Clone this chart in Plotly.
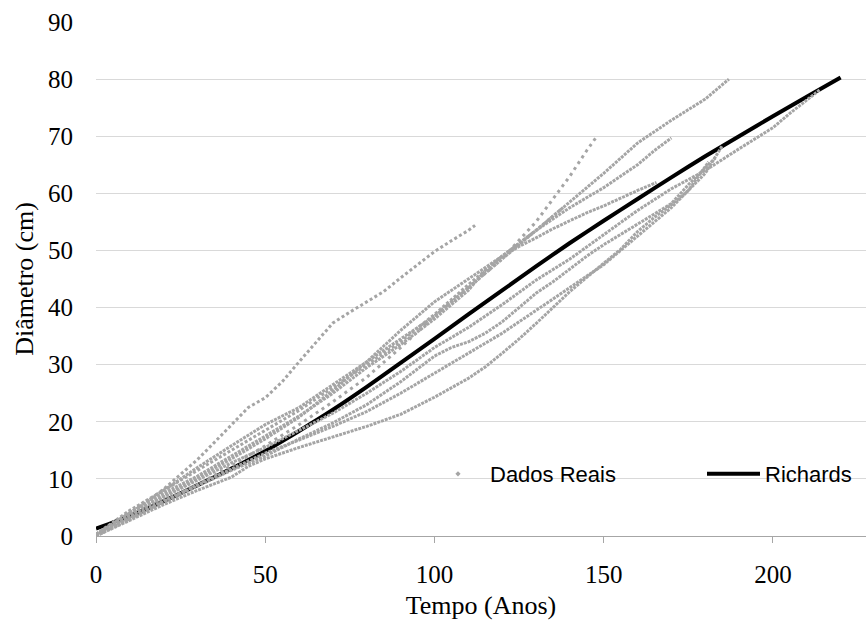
import plotly.graph_objects as go

# ---------------- data ----------------
tempo_richards = [0, 10, 20, 30, 40, 50, 60, 70, 80, 90, 100, 110, 120, 130, 140, 150, 160, 170, 180, 190, 200, 210, 220]
diam_richards = [1.3, 3.5, 6.1, 8.9, 11.8, 14.9, 18.4, 22.1, 26.1, 30.3, 34.5, 38.8, 43.0, 47.2, 51.3, 55.2, 59.0, 62.8, 66.5, 70.0, 73.5, 76.9, 80.3]

tempo_a = [0, 5, 10, 15, 20, 25, 30, 35, 40, 45, 50, 55, 60, 65, 70, 75, 80, 85, 90, 95, 100, 105, 110, 112]
diam_a = [0.3, 2.2, 4.2, 6.0, 8.2, 10.8, 13.4, 16.4, 19.5, 22.5, 24.2, 27.0, 30.5, 34.0, 37.3, 39.2, 41.0, 42.8, 45.2, 47.5, 49.8, 51.7, 53.5, 54.4]

tempo_b = [0, 10, 20, 30, 40, 50, 60, 70, 80, 90, 100, 105, 110, 115, 120, 125, 130, 135, 140, 145, 148]
diam_b = [0.0, 3.0, 6.0, 9.0, 12.3, 15.8, 19.5, 23.5, 27.8, 33.0, 38.5, 41.0, 43.5, 46.0, 48.5, 51.8, 55.0, 59.0, 63.0, 67.5, 70.0]

tempo_c = [0, 10, 20, 30, 40, 50, 60, 70, 80, 90, 100, 110, 120, 130, 140, 150, 160, 170, 180, 187]
diam_c = [0.2, 4.0, 8.0, 12.0, 15.8, 19.5, 22.5, 26.5, 30.5, 34.4, 38.5, 43.5, 48.5, 53.5, 58.5, 63.5, 68.8, 72.8, 76.5, 80.0]

tempo_d = [0, 10, 20, 30, 40, 50, 60, 70, 80, 90, 100, 110, 120, 130, 140, 150, 160, 165, 170]
diam_d = [0.2, 3.6, 7.0, 10.2, 13.5, 17.0, 20.8, 25.5, 30.5, 36.0, 41.0, 45.0, 49.0, 53.5, 57.5, 61.0, 65.0, 67.5, 69.7]

tempo_e = [0, 10, 20, 30, 40, 50, 60, 70, 80, 90, 100, 110, 115, 120, 125, 130, 135, 140, 145, 150, 155, 160, 165.6]
diam_e = [0.3, 4.0, 7.5, 10.5, 14.0, 17.5, 21.0, 25.0, 29.5, 33.5, 38.0, 43.0, 46.5, 49.0, 50.7, 52.2, 53.8, 55.2, 56.6, 57.8, 59.2, 60.5, 61.9]

tempo_f = [0, 10, 20, 30, 40, 50, 60, 70, 80, 90, 100, 110, 120, 130, 140, 150, 160, 170, 180, 190, 200, 205, 210, 214]
diam_f = [0.3, 3.5, 6.8, 9.8, 12.8, 15.5, 18.5, 21.5, 25.0, 28.8, 33.0, 36.5, 40.5, 44.8, 48.5, 52.8, 57.0, 60.8, 64.0, 67.8, 71.5, 74.0, 76.3, 78.2]

tempo_g = [0, 10, 20, 30, 40, 45, 50, 60, 70, 80, 90, 100, 110, 115, 120, 125, 130, 135, 140, 145, 150, 155, 160, 165, 170, 175, 180, 185]
diam_g = [0.0, 2.8, 5.5, 8.0, 10.3, 12.2, 13.5, 15.5, 17.3, 19.2, 21.3, 24.3, 27.6, 29.6, 32.0, 34.5, 37.2, 40.0, 42.8, 45.3, 47.8, 50.2, 53.3, 55.8, 58.0, 60.5, 63.5, 68.3]

tempo_h = [0, 10, 20, 30, 40, 50, 60, 70, 80, 90, 100, 105, 110, 115, 120, 125, 130, 135, 140, 145, 150, 155, 160, 165, 170, 175, 180, 183]
diam_h = [0.2, 3.0, 6.0, 8.8, 11.5, 14.0, 17.0, 19.8, 23.0, 27.0, 31.5, 33.0, 34.0, 35.5, 37.5, 40.0, 42.5, 44.5, 46.8, 49.0, 51.0, 52.8, 54.5, 56.3, 58.2, 61.5, 64.5, 66.2]

tempo_i = [0, 10, 20, 30, 40, 50, 60, 70, 80, 90, 100, 110, 120, 130, 140, 150, 160, 170, 175, 181]
diam_i = [0.0, 3.2, 6.2, 9.0, 11.8, 14.5, 16.8, 19.2, 21.8, 25.0, 28.5, 32.0, 35.5, 39.5, 43.5, 47.5, 52.5, 57.5, 60.5, 65.5]

tempo_k = [0, 10, 20, 30, 40, 50, 60, 70, 80, 90, 100, 110, 120, 130, 138]
diam_k = [0.3, 4.5, 8.0, 11.5, 15.0, 18.5, 22.0, 26.0, 30.0, 34.0, 38.8, 44.0, 49.0, 53.5, 57.5]

x_ticks = [0, 50, 100, 150, 200]
y_ticks = [0, 10, 20, 30, 40, 50, 60, 70, 80, 90]

series = [
    (tempo_a, diam_a), (tempo_b, diam_b), (tempo_c, diam_c), (tempo_d, diam_d),
    (tempo_e, diam_e), (tempo_f, diam_f), (tempo_g, diam_g), (tempo_h, diam_h),
    (tempo_i, diam_i), (tempo_k, diam_k),
]
# dot pattern per curve (sparser for the curves measured less often)
dash_styles = ["3px,2.5px", "3px,4px", "3px,1px", "3px,1px", "3px,1px",
               "3px,1px", "3px,1px", "3px,1px", "3px,1px", "3px,2px"]

GRAY = "#A5A5A5"
SERIF = "Liberation Serif, Times New Roman, serif"
SANS = "Liberation Sans, Arial, sans-serif"

fig = go.Figure()

# fitted Richards curve (drawn first so the observed dots sit on top)
fig.add_trace(go.Scatter(
    x=tempo_richards, y=diam_richards, mode="lines", name="Richards",
    line=dict(color="black", width=4, shape="spline", smoothing=0.6),
    legend="legend2",
))

for (tx, dy), dash in zip(series, dash_styles):
    fig.add_trace(go.Scatter(
        x=tx, y=dy, mode="lines", showlegend=False, hoverinfo="x+y",
        line=dict(color=GRAY, width=3, dash=dash),
    ))

# legend entry for the observed data (marker only)
fig.add_trace(go.Scatter(
    x=[None], y=[None], mode="markers", name="Dados Reais",
    marker=dict(color=GRAY, size=4, symbol="diamond"), legend="legend",
))

fig.update_layout(
    width=866, height=622,
    margin=dict(l=96, r=0, t=22, b=86),
    paper_bgcolor="white", plot_bgcolor="white",
    font=dict(family=SERIF, size=25, color="black"),
    xaxis=dict(
        range=[0, 227.5], tickvals=x_ticks, showgrid=False, zeroline=False,
        showline=True, linecolor="#A6A6A6", linewidth=1.3,
        ticks="outside", ticklen=6, tickcolor="#A6A6A6", tickwidth=1.3,
        tickfont=dict(family=SERIF, size=25, color="black"),
        ticklabelstandoff=10,
        title=dict(text="Tempo (Anos)", font=dict(family=SERIF, size=26, color="black"), standoff=8),
    ),
    yaxis=dict(
        range=[0, 90], tickvals=y_ticks, showgrid=True, gridcolor="#D9D9D9", gridwidth=1.3,
        zeroline=False, showline=False, ticks="",
        tickfont=dict(family=SERIF, size=25, color="black"),
        ticklabelstandoff=22,
        title=dict(text="Diâmetro (cm)", font=dict(family=SERIF, size=26, color="black"), standoff=6),
    ),
    legend=dict(
        x=(426 - 96) / 770, xanchor="left", y=(536 - 474) / 514, yanchor="middle",
        orientation="h", bgcolor="rgba(0,0,0,0)", borderwidth=0, itemwidth=54,
        font=dict(family=SANS, size=22, color="black"),
    ),
    legend2=dict(
        x=(702 - 96) / 770, xanchor="left", y=(536 - 474) / 514, yanchor="middle",
        orientation="h", bgcolor="rgba(0,0,0,0)", borderwidth=0, itemwidth=53,
        font=dict(family=SANS, size=22, color="black"),
    ),
    showlegend=True,
)

fig.write_html("out.html")
